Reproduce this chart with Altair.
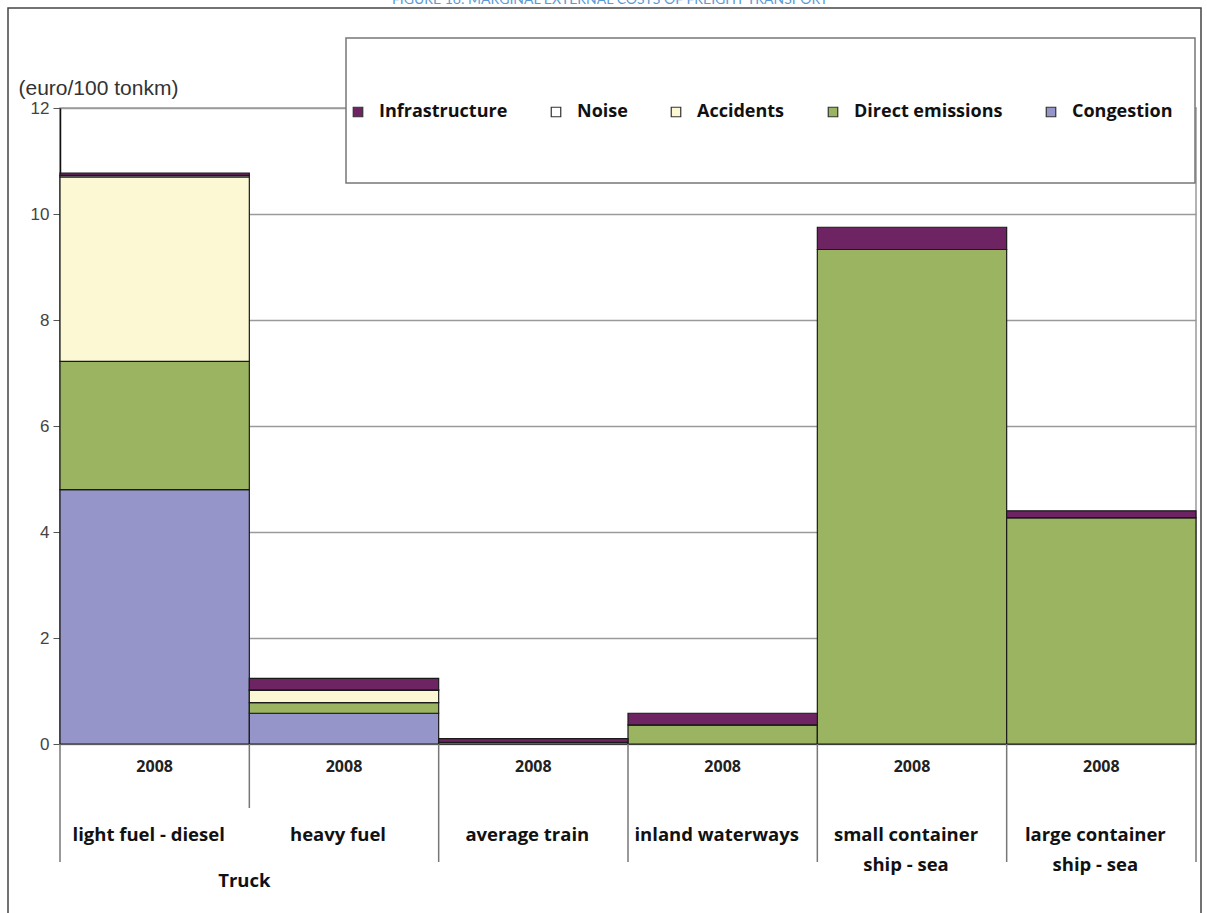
import altair as alt
import pandas as pd

# ---------------- data ----------------
categories = ["light fuel - diesel", "heavy fuel", "average train",
              "inland waterways", "small container ship - sea", "large container ship - sea"]
category_labels = ["light fuel - diesel", "heavy fuel", "average train",
                   "inland waterways", "small container\nship - sea", "large container\nship - sea"]
years = ["2008", "2008", "2008", "2008", "2008", "2008"]
group_label = "Truck"

series = ["Congestion", "Direct emissions", "Accidents", "Noise", "Infrastructure"]
congestion = [4.80, 0.58, 0.00, 0.00, 0.00, 0.00]
direct_emissions = [2.42, 0.20, 0.03, 0.36, 9.33, 4.27]
accidents = [3.48, 0.23, 0.00, 0.00, 0.00, 0.00]
noise = [0.03, 0.01, 0.00, 0.00, 0.00, 0.00]
infrastructure = [0.04, 0.22, 0.07, 0.22, 0.42, 0.13]

legend_order = ["Infrastructure", "Noise", "Accidents", "Direct emissions", "Congestion"]
legend_colors = ["#6E2363", "#FFFFFF", "#FBF8D3", "#9BB462", "#9595C9"]

title_text = "FIGURE 16: MARGINAL EXTERNAL COSTS OF FREIGHT TRANSPORT"
y_title = "(euro/100 tonkm)"
y_ticks = [0, 2, 4, 6, 8, 10, 12]

# ---------------- tables ----------------
values_by_series = [congestion, direct_emissions, accidents, noise, infrastructure]
rows = []
for k, (name, vals) in enumerate(zip(series, values_by_series)):
    for c, v in zip(categories, vals):
        rows.append({"category": c, "series": name, "value": v, "ord": k})
bars_df = pd.DataFrame(rows)

labels_df = pd.DataFrame({"category": categories, "label": category_labels, "year": years})
group_df = pd.DataFrame({"category": [categories[1]], "label": [group_label]})
one = pd.DataFrame({"a": [0]})

W, H = 1136, 636
LEFT, TOP = 60, 108

xscale = alt.Scale(domain=categories, paddingInner=0, paddingOuter=0)

# outer frame
frame = alt.Chart(one).mark_rect(fill="transparent", stroke="#444", strokeWidth=1.5).encode(
    x=alt.value(8 - LEFT), x2=alt.value(1201 - LEFT),
    y=alt.value(8 - TOP), y2=alt.value(925 - TOP))

# cut-off figure title
title = alt.Chart(one).mark_text(font="Lato", fontSize=14, color="#5B9BD5",
                                 baseline="middle", align="center").encode(
    x=alt.value(610 - LEFT), y=alt.value(-TOP), text=alt.value(title_text))

# bars
bars = alt.Chart(bars_df).mark_bar(stroke="#1a1a1a", strokeWidth=1.2).encode(
    x=alt.X("category:N", scale=xscale, sort=categories,
            axis=alt.Axis(labels=False, ticks=False, title=None, grid=False,
                          domainColor="#111", domainWidth=1.5)),
    y=alt.Y("value:Q", stack="zero", scale=alt.Scale(domain=[0, 12], nice=False),
            axis=alt.Axis(values=y_ticks, title=y_title, titleAngle=0,
                          titleX=18 - LEFT, titleY=88 - TOP, titleAlign="left",
                          titleBaseline="middle", titleFont="Liberation Sans",
                          titleFontSize=21, titleFontWeight="normal", titleColor="#333",
                          labelFont="Liberation Sans", labelFontSize=17, labelColor="#444",
                          tickColor="#555", tickSize=7, labelPadding=4,
                          domainColor="#111", domainWidth=1.5,
                          gridColor="#9a9a9a", gridWidth=1.5)),
    color=alt.Color("series:N", scale=alt.Scale(domain=legend_order, range=legend_colors),
                    legend=alt.Legend(title=None, orient="none", direction="horizontal",
                                      legendX=289, legendY=-5, padding=0,
                                      symbolType="square", symbolSize=90,
                                      symbolStrokeColor="#333", symbolStrokeWidth=1.2,
                                      labelFont="Open Sans", labelFontSize=18,
                                      labelFontWeight="bold", labelColor="#111",
                                      labelOffset=12, columnPadding=39,
                                      labelLimit=300)),
    order=alt.Order("ord:Q", sort="ascending"),
)

# legend box
legend_box = alt.Chart(one).mark_rect(fill="white", stroke="#777", strokeWidth=1.5).encode(
    x=alt.value(346 - LEFT), x2=alt.value(1195 - LEFT),
    y=alt.value(38 - TOP), y2=alt.value(183 - TOP))

xenc = alt.X("category:N", scale=xscale, sort=categories, axis=None)

year_text = alt.Chart(labels_df).mark_text(font="Open Sans", fontSize=16, fontWeight="bold",
                                           color="#222", baseline="middle").encode(
    x=xenc, y=alt.value(767 - TOP), text="year:N")

cat_text = alt.Chart(labels_df).mark_text(font="Open Sans", fontSize=18.5, fontWeight="bold",
                                          color="#111", baseline="middle", lineBreak="\n",
                                          lineHeight=30, dx=-6).encode(
    x=xenc, y=alt.value(835 - TOP), text="label:N")

truck_text = alt.Chart(group_df).mark_text(font="Open Sans", fontSize=18.5, fontWeight="bold",
                                           color="#111", baseline="middle", dx=-5).encode(
    x=alt.X("category:N", scale=xscale, sort=categories, axis=None, bandPosition=0),
    y=alt.value(881 - TOP), text="label:N")

sep_long = alt.Chart(labels_df).mark_rule(color="#777", strokeWidth=1.5).encode(
    x=alt.X("category:N", scale=xscale, sort=categories, axis=None, bandPosition=0),
    y=alt.value(H), y2=alt.value(862 - TOP)
).transform_filter(alt.datum.category != categories[1])

sep_short = alt.Chart(labels_df).mark_rule(color="#777", strokeWidth=1.5).encode(
    x=alt.X("category:N", scale=xscale, sort=categories, axis=None, bandPosition=0),
    y=alt.value(H), y2=alt.value(808 - TOP)
).transform_filter(alt.datum.category == categories[1])

sep_end = alt.Chart(labels_df).mark_rule(color="#777", strokeWidth=1.5).encode(
    x=alt.X("category:N", scale=xscale, sort=categories, axis=None, bandPosition=1),
    y=alt.value(H), y2=alt.value(862 - TOP)
).transform_filter(alt.datum.category == categories[-1])

chart = alt.layer(
    frame, title, bars, legend_box, sep_long, sep_short, sep_end,
    year_text, cat_text, truck_text
).properties(
    width=W, height=H,
    padding={"left": LEFT, "top": TOP, "right": 1207 - LEFT - W, "bottom": 913 - TOP - H},
    autosize="none",
    background="white",
).configure_view(stroke="#9a9a9a", strokeWidth=1.5)

chart.save("out.html", embed_options={"renderer": "svg", "actions": False})
